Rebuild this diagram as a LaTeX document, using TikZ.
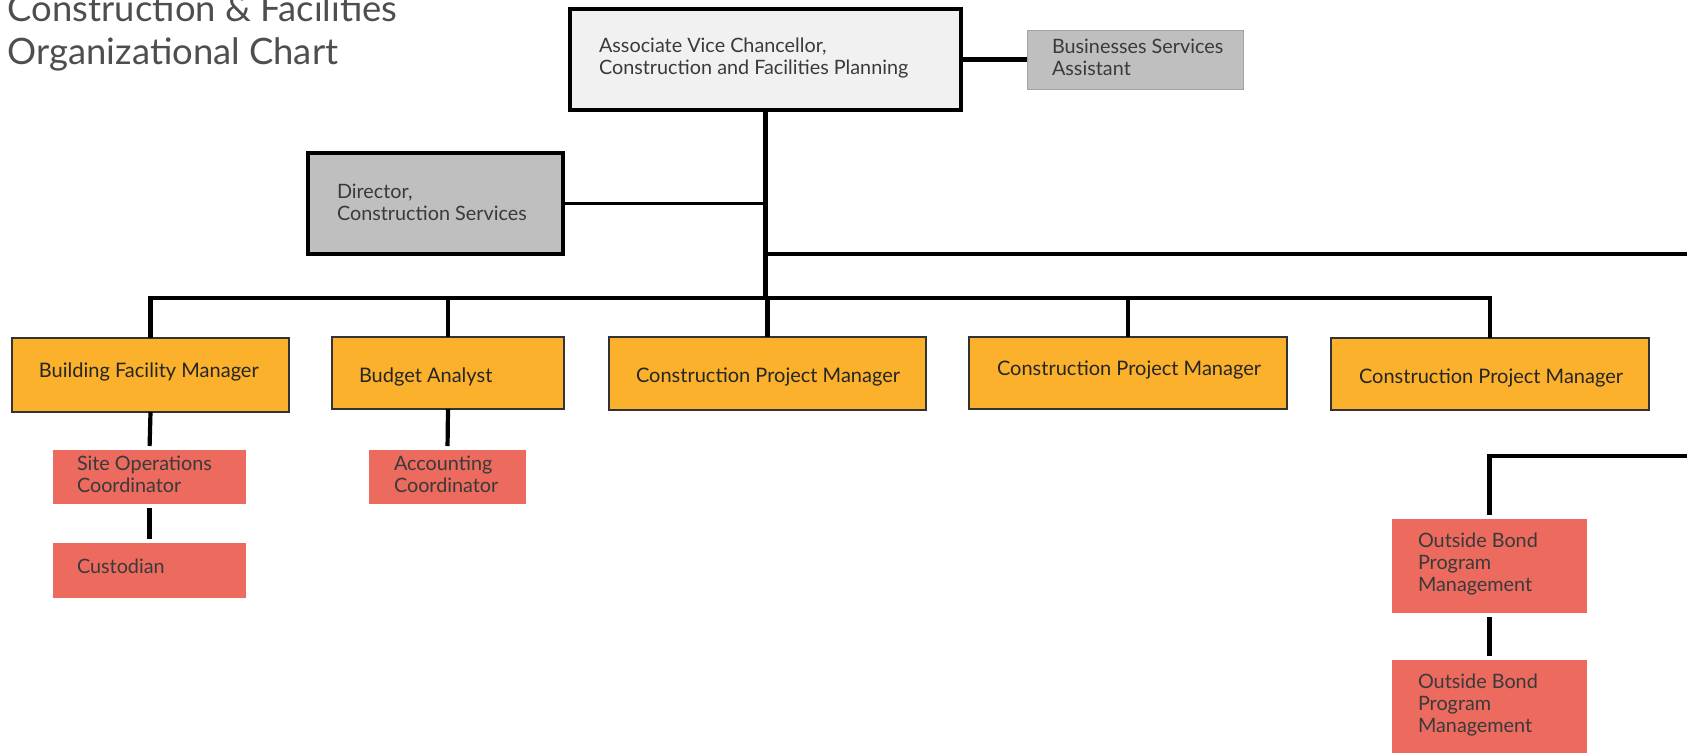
\documentclass[tikz,border=0pt]{standalone}
\usepackage{fontspec}
\setmainfont{Lato}
\usetikzlibrary{fit}
\definecolor{panel}{HTML}{F1F1F1}
\definecolor{greybox}{HTML}{BFBFBF}
\definecolor{orangebox}{HTML}{FBB12B}
\definecolor{redbox}{HTML}{EC6A5E}
\definecolor{ink}{HTML}{3A3A3A}
\tikzset{
  box/.style={inner sep=0pt, outer sep=0pt, rectangle},
  headbox/.style={box, fill=panel, draw=black, line width=1.9pt},
  dirbox/.style={box, fill=greybox, draw=black, line width=1.7pt},
  asstbox/.style={box, fill=greybox, draw=greybox!85!black, line width=0.4pt},
  mgrbox/.style={box, fill=orangebox, draw=black!80, line width=0.6pt},
  staffbox/.style={box, fill=redbox},
  label/.style={inner sep=0pt, outer sep=0pt, align=left, text=ink,
    font=\fontsize{9.9}{10.9}\selectfont},
  mgrlabel/.style={label, text=black!85, font=\fontsize{10}{11}\selectfont},
  link/.style={draw=black, line width=2.1pt},
  thinlink/.style={draw=black, line width=1.5pt},
}
\begin{document}
\begin{tikzpicture}[x=0.5pt, y=-0.5pt]
\useasboundingbox (0,0) rectangle (1687,752);

% title
\node[label, anchor=base west, text=ink!90, font=\fontsize{18.2}{21.5}\selectfont] (title) at (8,64)
  {Construction \& Facilities\\Organizational Chart};

% boxes
\node[headbox, fit={(570,9) (961,110)}] (head) {};
\node[asstbox, fit={(1027,30) (1243,89)}] (asst) {};
\node[dirbox, fit={(308,153) (563,254)}] (dir) {};

\node[mgrbox, fit={(12,338) (289,412)}] (bfm) {};
\node[mgrbox, fit={(332,337) (564,409)}] (ba) {};
\node[mgrbox, fit={(609,337) (926,410)}] (cpmA) {};
\node[mgrbox, fit={(969,337) (1287,409)}] (cpmB) {};
\node[mgrbox, fit={(1331,338) (1649,410)}] (cpmC) {};

\node[staffbox, fit={(53,450) (246,504)}] (siteops) {};
\node[staffbox, fit={(53,543) (246,598)}] (cust) {};
\node[staffbox, fit={(369,450) (526,504)}] (acct) {};
\node[staffbox, fit={(1392,519) (1587,613)}] (obA) {};
\node[staffbox, fit={(1392,660) (1587,760)}] (obB) {};

% texts
\node[label, anchor=west] (headt) at (599,58)
  {Associate Vice Chancellor,\\Construction and Facilities Planning};
\node[label, anchor=west] (asstt) at (1052,57) {Businesses Services\\Assistant};
\node[label, anchor=west] (dirt) at (337,202) {Director,\\Construction Services};

\node[mgrlabel, anchor=mid west] (bfmt) at (39,372) {Building Facility Manager};
\node[mgrlabel, anchor=mid west] (bat) at (359,377) {Budget Analyst};
\node[mgrlabel, anchor=mid west] (cpmAt) at (636,377) {Construction Project Manager};
\node[mgrlabel, anchor=mid west] (cpmBt) at (997,370) {Construction Project Manager};
\node[mgrlabel, anchor=mid west] (cpmCt) at (1359,378) {Construction Project Manager};

\node[label, anchor=west] (siteopst) at (77,474) {Site Operations\\Coordinator};
\node[label, anchor=mid west] (custt) at (77,568) {Custodian};
\node[label, anchor=west] (acctt) at (394,474) {Accounting\\Coordinator};
\node[label, anchor=west] (obAt) at (1418,564) {Outside Bond\\Program\\Management};
\node[label, anchor=west] (obBt) at (1418,705) {Outside Bond\\Program\\Management};

% junction points and lines leaving the right edge
\coordinate (bus) at (767,298);
\coordinate (edgeA) at (1687,254);
\coordinate (edgeB) at (1687,456);

% connectors
\draw[link] (head.east) -- (asst.west);
\draw[link] (head.south) -- (head.south |- bus);
\draw[thinlink] (dir.east) -- (dir.east -| head.south);
\draw[link, line width=1.8pt] (edgeA -| head.south) -- (edgeA);
\draw[link, line join=miter] (bfm.north) |- (cpmC.north |- bus) -- (cpmC.north);
\draw[link] (ba.north) -- (ba.north |- bus);
\draw[link] (cpmA.north) -- (cpmA.north |- bus);
\draw[link] (cpmB.north) -- (cpmB.north |- bus);

\draw[link, shorten >=2pt] (bfm.south) -- (siteops.north);
\draw[link, shorten <=2pt, shorten >=2pt] (siteops.south) -- (cust.north);
\draw[link, shorten >=2pt] (ba.south) -- (acct.north);
\draw[link, line join=miter, shorten >=2pt] (edgeB) -| (obA.north);
\draw[link, shorten <=2pt, shorten >=2pt] (obA.south) -- (obB.north);
\end{tikzpicture}
\end{document}
